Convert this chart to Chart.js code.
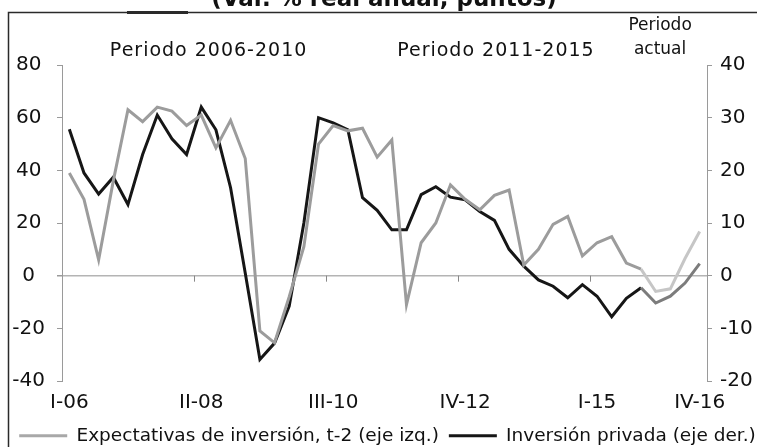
<!DOCTYPE html>
<html>
<head>
<meta charset="utf-8">
<script src="https://cdn.jsdelivr.net/npm/chart.js@4.4.1/dist/chart.umd.min.js"></script>
<style>
html, body { margin: 0; padding: 0; background: #fff; overflow: hidden; }
#wrap { position: absolute; left: 0; top: 0; width: 775px; height: 447px; }
</style>
</head>
<body>
<div id="wrap"><canvas id="myChart"></canvas></div>
<script>
// data

const quarters = [
    'I-06', 'II-06', 'III-06', 'IV-06', 'I-07', 'II-07', 'III-07', 'IV-07',
    'I-08', 'II-08', 'III-08', 'IV-08', 'I-09', 'II-09', 'III-09', 'IV-09',
    'I-10', 'II-10', 'III-10', 'IV-10', 'I-11', 'II-11', 'III-11', 'IV-11',
    'I-12', 'II-12', 'III-12', 'IV-12', 'I-13', 'II-13', 'III-13', 'IV-13',
    'I-14', 'II-14', 'III-14', 'IV-14', 'I-15', 'II-15', 'III-15', 'IV-15',
    'I-16', 'II-16', 'III-16', 'IV-16'
]
const shownTicks = ['I-06', 'II-08', 'III-10', 'IV-12', 'I-15', 'IV-16']

// Expectativas de inversión, t-2 (eje izq.)
const expectativas = [
    39, 29, 6, 36, 63, 58.5, 64, 62.5,
    57, 61, 48.5, 59, 44.5, -21, -25.5, -8,
    11, 50, 57, 55, 56, 45, 51.5, -11,
    12.5, 20, 34.5, 29, 25, 30.5, 32.5, 4,
    10, 19.5, 22.5, 7.5, 12.5, 14.8, 4.8, 2.5,
    -6, -5, 6.5, 16.8
]

// Inversión privada (eje der.)
const inversion = [
    27.8, 19.5, 15.5, 18.7, 13.5, 23, 30.5, 26,
    23, 32, 27.7, 16.7, 0.5, -15.9, -12.8, -5.8,
    10, 30, 29, 27.7, 14.8, 12.4, 8.7, 8.7,
    15.4, 16.9, 14.9, 14.4, 12.2, 10.5, 5, 1.8,
    -0.8, -2, -4.2, -1.7, -3.9, -7.8, -4.3, -2.3,
    -5.2, -3.9, -1.4, 2.3
]

const leftTicks = [-40, -20, 0, 20, 40, 60, 80]
const rightTicks = [-20, -10, 0, 10, 20, 30, 40]

const periodLabels = [
    { text: ['Periodo 2006-2010'], at: 9.5 },
    { text: ['Periodo 2011-2015'], at: 29.1 },
    { text: ['Periodo', 'actual'], at: 40.3 }
]

const actualFrom = 39   // segments from here on are drawn lighter

Chart.defaults.font.family = "'DejaVu Sans', sans-serif"
Chart.defaults.color = '#111'

// frame, cut title, period texts, tick marks on the zero line
const decor = {
    id: 'decor',
    beforeDraw(chart) {
        const c = chart.ctx
        c.save()
        c.fillStyle = '#fff'
        c.fillRect(0, 0, chart.width, chart.height)
        c.strokeStyle = '#2a2a2a'
        c.lineWidth = 1.5
        c.beginPath()
        c.moveTo(8.5, chart.height)
        c.lineTo(8.5, 12.5)
        c.lineTo(chart.width, 12.5)
        c.stroke()
        c.lineWidth = 3
        c.beginPath()
        c.moveTo(127, 12.5)
        c.lineTo(188, 12.5)
        c.stroke()
        c.fillStyle = '#111'
        c.font = "bold 23px 'DejaVu Sans'"
        c.textAlign = 'center'
        c.textBaseline = 'alphabetic'
        c.fillText('(Var. % real anual, puntos)', 384, 6)
        c.restore()
    },
    afterDraw(chart) {
        const c = chart.ctx
        const x = chart.scales.x
        const y = chart.scales.y
        c.save()
        c.fillStyle = '#111'
        c.textAlign = 'center'
        c.textBaseline = 'alphabetic'
        periodLabels.forEach(p => {
            const px = x.getPixelForValue(p.at)
            if (p.text.length === 1) {
                c.font = "19px 'DejaVu Sans'"
                c.letterSpacing = '1px'
                c.fillText(p.text[0], px, 56)
            } else {
                c.font = "17px 'DejaVu Sans'"
                c.letterSpacing = '0px'
                c.fillText(p.text[0], px, 30)
                c.fillText(p.text[1], px, 54)
            }
        })
        c.letterSpacing = '0px'
        const y0 = y.getPixelForValue(0)
        c.strokeStyle = '#888'
        c.lineWidth = 1
        ;[9, 18, 27, 36].forEach(k => {
            const tx = Math.round((x.getPixelForValue(k - 1) + x.getPixelForValue(k)) / 2) + 0.5
            c.beginPath()
            c.moveTo(tx, y0)
            c.lineTo(tx, y0 + 6)
            c.stroke()
        })
        c.restore()
    }
}

const ctx = document.getElementById('myChart')
new Chart(ctx, {
    type: 'line',
    data: {
        labels: quarters,
        datasets: [{
            label: 'Expectativas de inversión, t-2 (eje izq.)',
            data: expectativas,
            yAxisID: 'y',
            borderColor: '#9c9c9c',
            backgroundColor: '#a8a8a8',
            borderWidth: 3,
            pointRadius: 0,
            segment: {
                borderColor: s => s.p0DataIndex >= actualFrom ? '#c6c6c6' : undefined
            }
        }, {
            label: 'Inversión privada (eje der.)',
            data: inversion,
            yAxisID: 'y1',
            borderColor: '#161616',
            backgroundColor: '#161616',
            borderWidth: 3,
            pointRadius: 0,
            segment: {
                borderColor: s => s.p0DataIndex >= actualFrom ? '#7c7c7c' : undefined
            }
        }]
    },
    options: {
        responsive: true,
        maintainAspectRatio: false,
        devicePixelRatio: 1,
        animation: false,
        layout: { padding: { top: 65, left: 0, right: 0, bottom: -8 } },
        plugins: {
            tooltip: { enabled: false },
            legend: {
                position: 'bottom',
                labels: {
                    font: { size: 18.5 },
                    boxWidth: 48,
                    boxHeight: 3,
                    padding: 10,
                    color: '#111',
                    generateLabels: chart => Chart.defaults.plugins.legend.labels.generateLabels(chart)
                        .map(l => ({ ...l, lineWidth: 0 }))
                }
            }
        },
        scales: {
            x: {
                offset: true,
                grid: { display: false, drawTicks: false },
                border: { display: false },
                ticks: {
                    autoSkip: false,
                    maxRotation: 0,
                    padding: 10,
                    font: { size: 20 },
                    callback: (v, i) => shownTicks.includes(quarters[i]) ? quarters[i] : ''
                },
                afterFit: s => { s.height = 35.5 }
            },
            y: {
                position: 'left',
                min: leftTicks[0],
                max: leftTicks[leftTicks.length - 1],
                ticks: { stepSize: 20, padding: 12, crossAlign: 'center', font: { size: 20 } },
                grid: {
                    color: c => c.tick && c.tick.value === 0 ? '#b4b4b4' : 'rgba(0,0,0,0)',
                    lineWidth: c => c.tick && c.tick.value === 0 ? 1.5 : 1,
                    tickColor: '#9a9a9a',
                    tickLength: 5
                },
                border: { color: '#9a9a9a', width: 1 },
                afterFit: s => { s.width = 62 }
            },
            y1: {
                position: 'right',
                min: rightTicks[0],
                max: rightTicks[rightTicks.length - 1],
                ticks: { stepSize: 10, padding: 8, font: { size: 20 } },
                grid: { drawOnChartArea: false, tickColor: '#9a9a9a', tickLength: 5 },
                border: { color: '#9a9a9a', width: 1 },
                afterFit: s => { s.width = 68 }
            }
        }
    },
    plugins: [decor]
})
</script>
</body>
</html>
